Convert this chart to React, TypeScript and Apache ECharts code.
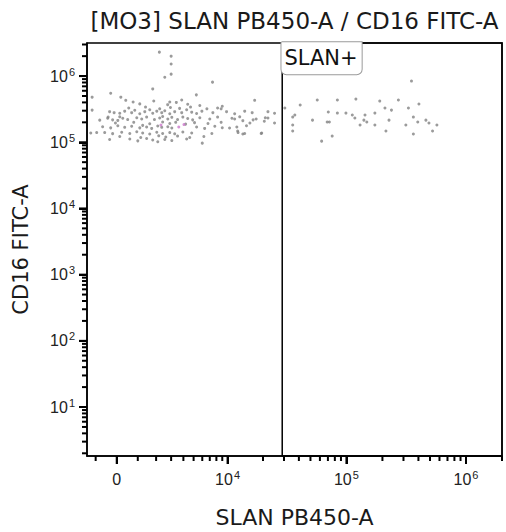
import React, { useEffect, useRef } from 'react';
import * as echarts from 'echarts';

// ---- scales ----
const BIEX_W = 1200;
const fx = (v: number) => Math.asinh(v / (2 * BIEX_W)) / Math.LN10;
const ifx = (t: number) => 2 * BIEX_W * Math.sinh(t * Math.LN10);
const fy = (v: number) => Math.log10(v);

const X_MIN = -1450;
const X_MAX = 2.0e6;
const Y_MIN = 1.82;
const Y_MAX = 3.16e6;
const GATE_X = 29000;

const TITLE = '[MO3] SLAN PB450-A / CD16 FITC-A';
const X_NAME = 'SLAN PB450-A';
const Y_NAME = 'CD16 FITC-A';
const GATE_NAME = 'SLAN+';

// ---- ticks ----
const xMajorTicks = [0, 1e4, 1e5, 1e6];
const xMinorTicks = [-1000, 1000, 2000, 3000, 4000, 5000, 6000, 7000, 8000, 9000,
  20000, 30000, 40000, 50000, 60000, 70000, 80000, 90000,
  200000, 300000, 400000, 500000, 600000, 700000, 800000, 900000, 2000000];
const yMajorTicks = [10, 100, 1000, 10000, 100000, 1000000];
const yMinorTicks = [2, 3, 4, 5, 6, 7, 8, 9,
  20, 30, 40, 50, 60, 70, 80, 90,
  200, 300, 400, 500, 600, 700, 800, 900,
  2000, 3000, 4000, 5000, 6000, 7000, 8000, 9000,
  20000, 30000, 40000, 50000, 60000, 70000, 80000, 90000,
  200000, 300000, 400000, 500000, 600000, 700000, 800000, 900000,
  2000000, 3000000];

// ---- events (SLAN PB450-A, CD16 FITC-A) ----
const outerEvents: [number, number][] = [
  [2200, 2.3e6], [3000, 2.0e6], [3000, 1.52e6], [3000, 1.07e6], [2550, 9.6e5], [7400, 8.1e5],
  [1800, 6.4e5], [-280, 5.5e5], [-1180, 4.8e5], [190, 4.8e5], [420, 4.3e5], [770, 4.05e5],
  [1860, 4.2e5], [2900, 4.05e5], [3400, 4.0e5], [3850, 4.35e5], [5300, 5.2e5], [17000, 4.3e5],
  [-1180, 3.06e5], [8800, 3.2e5], [11500, 2.25e5], [13500, 2.12e5], [16500, 2.18e5], [20500, 2.08e5],
  [22000, 2.32e5], [25000, 1.95e5], [19500, 1.38e5], [10400, 1.64e5], [12200, 1.48e5], [14000, 1.36e5],
  [6000, 9.7e4], [-1250, 1.38e5], [-950, 1.4e5], [-800, 2.16e5], [-400, 2.4e5], [-190, 2.18e5],
  [50, 2.14e5], [280, 2.3e5],
];
const bandHigh: [number, number][] = [
  [1100, 3.8e5], [2750, 3.7e5], [4400, 3.75e5], [5700, 3.6e5], [9000, 3.5e5],
  [560, 3.3e5], [1400, 3.4e5], [2220, 3.2e5], [2950, 3.35e5], [3670, 3.25e5], [4680, 3.4e5],
  [6600, 3.2e5], [8200, 3.3e5],
  [-330, 2.9e5], [-120, 2.8e5], [140, 2.75e5], [370, 2.95e5], [700, 2.8e5], [850, 3.05e5],
  [1100, 2.7e5], [1360, 2.9e5], [1630, 3.1e5], [1800, 2.75e5], [2040, 2.95e5], [2350, 2.8e5],
  [2550, 3.0e5], [2900, 2.7e5], [3270, 2.9e5], [3850, 2.8e5], [4300, 3.1e5], [4800, 2.85e5],
  [5330, 2.72e5], [5950, 2.95e5], [7450, 2.8e5], [9800, 2.9e5], [11500, 2.7e5], [14000, 2.95e5],
  [16200, 2.8e5], [22000, 2.9e5], [25000, 2.75e5],
];
const bandMid: [number, number][] = [
  [-420, 2.3e5], [140, 2.42e5], [510, 2.2e5], [950, 2.35e5], [1200, 2.25e5], [1460, 2.4e5],
  [1900, 2.2e5], [2220, 2.32e5], [2410, 2.45e5], [2760, 2.25e5], [3050, 2.38e5], [3500, 2.2e5],
  [3950, 2.4e5], [4400, 2.28e5], [4900, 2.18e5], [5700, 2.35e5], [7000, 2.25e5], [8200, 2.4e5],
  [10900, 2.3e5], [12700, 2.42e5], [17500, 2.25e5], [20900, 2.35e5],
  [-60, 1.95e5], [800, 2.0e5], [1630, 1.9e5], [2410, 2.02e5], [2900, 1.92e5], [3350, 2.0e5],
  [4200, 1.88e5], [5100, 1.98e5], [6750, 1.92e5], [8800, 2.0e5], [15500, 1.95e5],
];
const bandLow: [number, number][] = [
  [-660, 1.72e5], [-280, 1.65e5], [50, 1.78e5], [370, 1.68e5], [700, 1.75e5], [1100, 1.65e5],
  [1250, 1.8e5], [1460, 1.7e5], [1740, 1.62e5], [2100, 1.76e5], [2350, 1.68e5], [2760, 1.72e5],
  [3050, 1.64e5], [5330, 1.7e5], [6300, 1.62e5], [7750, 1.75e5], [9000, 1.66e5], [12000, 1.7e5],
  [14500, 1.78e5],
  [-560, 1.4e5], [-190, 1.35e5], [230, 1.42e5], [610, 1.36e5], [950, 1.44e5], [1250, 1.38e5],
  [1630, 1.33e5], [2040, 1.42e5], [2410, 1.36e5], [2900, 1.4e5], [3270, 1.34e5], [3950, 1.43e5],
  [4800, 1.38e5], [7300, 1.36e5], [12300, 1.4e5], [13500, 1.33e5], [19300, 1.36e5],
  [140, 1.22e5], [1150, 1.18e5], [2160, 1.25e5], [2620, 1.2e5], [3500, 1.24e5], [4600, 1.18e5],
  [6200, 1.22e5],
  [-330, 1.1e5], [610, 1.12e5], [1000, 1.05e5], [1460, 1.14e5], [1800, 1.08e5], [2100, 1.02e5],
  [2550, 1.1e5], [3050, 1.06e5], [4300, 1.12e5],
];
const highlightedEvents: [number, number][] = [
  [2300, 1.82e5], [3600, 1.7e5], [4050, 1.85e5],
];
const slanPosEvents: [number, number][] = [
  [350000, 8.4e5], [30500, 3.29e5], [41000, 3.65e5], [57000, 4.34e5], [84000, 4.34e5],
  [120000, 4.49e5], [190000, 4.19e5], [272000, 4.34e5], [404000, 3.78e5], [37000, 2.58e5],
  [35500, 2.4e5], [70500, 2.86e5], [84000, 2.76e5], [99000, 2.76e5], [112000, 2.58e5],
  [143000, 2.58e5], [173000, 2.76e5], [210000, 3.29e5], [238000, 3.06e5], [330000, 3.29e5],
  [363000, 2.4e5], [52000, 2.16e5], [69000, 2.02e5], [72000, 2.02e5], [117600, 2.32e5],
  [140000, 2.16e5], [148000, 2.02e5], [130000, 1.82e5], [173000, 1.82e5], [227000, 2.16e5],
  [314000, 1.82e5], [395000, 2.02e5], [462000, 2.16e5], [490000, 1.95e5], [571000, 1.82e5],
  [525000, 1.48e5], [35500, 1.82e5], [35500, 1.48e5], [214000, 1.48e5], [363000, 1.33e5],
  [76000, 1.24e5], [62000, 1.04e5],
];

const toPlot = (pts: [number, number][]) => pts.map(([x, y]) => [fx(x), fy(y)]);

const TICK_FONT = 'Liberation Sans, Arial, sans-serif';
const NAME_FONT = 'DejaVu Sans, sans-serif';
const MAJOR_LEN = 8;
const MINOR_LEN = 5;
const TICK_W = 2;

const rich = {
  b: { fontSize: 16, fontFamily: TICK_FONT, color: '#222', lineHeight: 20 },
  s: { fontSize: 11, fontFamily: TICK_FONT, color: '#222', padding: [0, 0, 9, 1] },
};

const xLabel = (t: number) => {
  const raw = ifx(t);
  if (Math.abs(raw) < 1) return '{b|0}';
  return `{b|10}{s|${Math.round(Math.log10(raw))}}`;
};
const yLabel = (t: number) => `{b|10}{s|${Math.round(t)}}`;

export default function App() {
  const ref = useRef<HTMLDivElement>(null);
  useEffect(() => {
    document.body.style.margin = '0';
    if (!ref.current) return;
    const chart = echarts.init(ref.current, undefined, { renderer: 'svg' });
    const gridLeft = 87, gridRight = 4, gridTop = 43, gridBottom = 76;
    const plotCenterX = gridLeft + (506 - gridLeft - gridRight) / 2;
    const makeTitle = () => ({
      type: 'text', x: plotCenterX, y: 21,
      style: { text: TITLE, fill: '#1a1a1a', font: `23px ${NAME_FONT}`, textAlign: 'center', textVerticalAlign: 'middle' },
    });

    chart.setOption({
      animation: false,
      grid: {
        left: gridLeft, right: gridRight, top: gridTop, bottom: gridBottom,
        outerBoundsMode: 'none', containLabel: false,
        show: true, borderColor: '#000', borderWidth: 1.5,
      },
      graphic: [makeTitle()],
      xAxis: {
        type: 'value', min: fx(X_MIN), max: fx(X_MAX), position: 'bottom',
        axisLine: { show: true, onZero: false, lineStyle: { color: '#000', width: 1.5 } },
        splitLine: { show: false },
        axisTick: { show: true, customValues: xMajorTicks.map(fx), length: MAJOR_LEN, lineStyle: { color: '#000', width: TICK_W } },
        axisLabel: { show: true, fontSize: 16, customValues: xMajorTicks.map(fx), formatter: xLabel, rich, margin: 13 },
        name: X_NAME, nameLocation: 'middle', nameGap: 50,
        nameTextStyle: { fontFamily: NAME_FONT, fontSize: 22, color: '#1a1a1a' },
      },
      yAxis: {
        type: 'value', min: fy(Y_MIN), max: fy(Y_MAX), position: 'left',
        axisLine: { show: true, onZero: false, lineStyle: { color: '#000', width: 1.5 } },
        splitLine: { show: false },
        axisTick: { show: true, customValues: yMajorTicks.map(fy), length: MAJOR_LEN, lineStyle: { color: '#000', width: TICK_W } },
        axisLabel: { show: true, fontSize: 16, customValues: yMajorTicks.map(fy), formatter: yLabel, rich, margin: 12 },
        name: Y_NAME, nameLocation: 'middle', nameGap: 56,
        nameTextStyle: { fontFamily: NAME_FONT, fontSize: 21, color: '#1a1a1a' },
      },
      series: [
        {
          type: 'scatter', name: 'events', symbol: 'circle', symbolSize: 3,
          itemStyle: { color: '#828282' },
          data: toPlot([...outerEvents, ...bandHigh, ...bandMid, ...bandLow]),
        },
        {
          type: 'scatter', name: 'highlighted', symbol: 'circle', symbolSize: 3,
          itemStyle: { color: '#cc77cc' },
          data: toPlot(highlightedEvents),
        },
        {
          type: 'scatter', name: GATE_NAME, symbol: 'circle', symbolSize: 3,
          itemStyle: { color: '#828282' },
          data: toPlot(slanPosEvents),
          markArea: {
            silent: true,
            itemStyle: { color: 'rgba(0,0,0,0)', borderColor: '#000', borderWidth: 1.5 },
            label: {
              show: true, position: 'insideTopLeft', distance: 0, formatter: GATE_NAME,
              fontFamily: NAME_FONT, fontSize: 21, color: '#111',
              backgroundColor: '#fff', borderColor: '#9a9a9a', borderWidth: 1,
              borderRadius: [0, 0, 5, 5], padding: [5, 4, 6, 3],
            },
            data: [[
              { coord: [fx(GATE_X), fy(Y_MAX)] },
              { coord: [fx(X_MAX), fy(Y_MIN)] },
            ]],
          },
        },
      ],
    });

    // Tick marks as thin filled bars, placed through the chart's own scales.
    const tickEls: any[] = [];
    const addX = (v: number, len: number) => {
      const p = chart.convertToPixel({ gridIndex: 0 }, [fx(v), fy(Y_MIN)]) as number[];
      tickEls.push({
        type: 'rect', z: 50,
        shape: { x: p[0] - TICK_W / 2, y: p[1], width: TICK_W, height: len },
        style: { fill: '#000' },
      });
    };
    const addY = (v: number, len: number) => {
      const p = chart.convertToPixel({ gridIndex: 0 }, [fx(X_MIN), fy(v)]) as number[];
      tickEls.push({
        type: 'rect', z: 50,
        shape: { x: p[0] - len, y: p[1] - TICK_W / 2, width: len, height: TICK_W },
        style: { fill: '#000' },
      });
    };
    xMajorTicks.forEach((v) => addX(v, MAJOR_LEN));
    xMinorTicks.forEach((v) => addX(v, MINOR_LEN));
    yMajorTicks.forEach((v) => addY(v, MAJOR_LEN));
    yMinorTicks.forEach((v) => addY(v, MINOR_LEN));
    chart.setOption({ graphic: [makeTitle(), ...tickEls] });

    return () => chart.dispose();
  }, []);
  return <div ref={ref} style={{ width: 506, height: 532 }} />;
}
